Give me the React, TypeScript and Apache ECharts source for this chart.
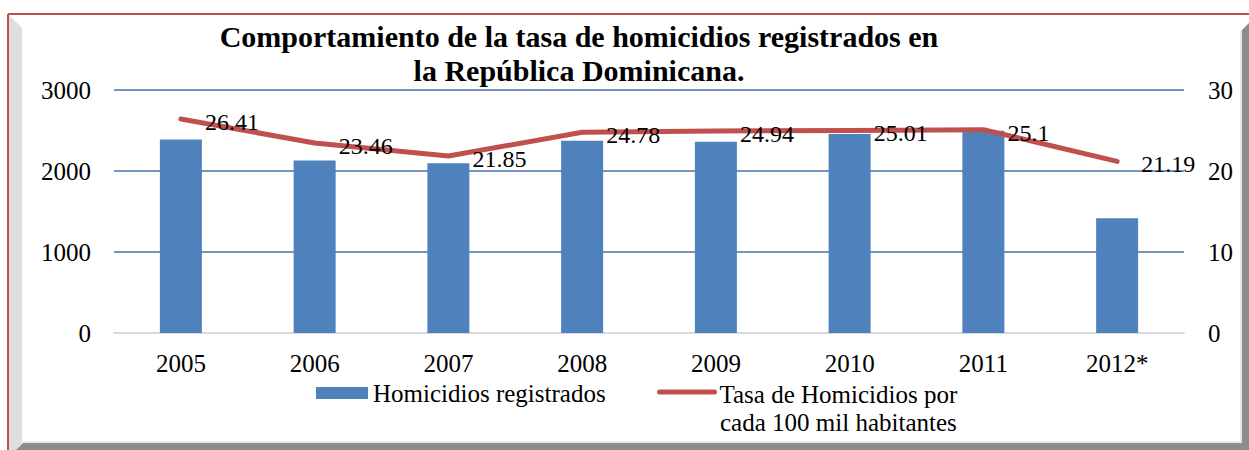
import React, { useEffect, useRef } from 'react';
import * as echarts from 'echarts';

const categories = ['2005', '2006', '2007', '2008', '2009', '2010', '2011', '2012*'];
const homicidiosRegistrados = [2390, 2130, 2095, 2375, 2362, 2456, 2497, 1418];
const tasaHomicidios = [26.41, 23.46, 21.85, 24.78, 24.94, 25.01, 25.1, 21.19];
const titleLines = ['Comportamiento de la tasa de homicidios registrados en', 'la República Dominicana.'];
const barName = 'Homicidios registrados';
const lineName = 'Tasa de Homicidios por cada 100 mil habitantes';
const lineNameLines = ['Tasa de Homicidios por', 'cada 100 mil habitantes'];

const FONT = 'Liberation Serif';
const BLUE = '#4f81bd';
const RED = '#c0504d';

export default function App() {
  const ref = useRef<HTMLDivElement>(null);
  useEffect(() => {
    if (!ref.current) return;
    const chart = echarts.init(ref.current, undefined, { renderer: 'svg' });
    const axisLabel = { color: '#000', fontSize: 25, fontFamily: FONT };
    chart.setOption({
      animation: false,
      backgroundColor: '#fff',
      textStyle: { fontFamily: FONT },
      grid: { left: 114, right: 65, top: 90, bottom: 117, containLabel: false },
      xAxis: {
        type: 'category',
        data: categories,
        axisTick: { show: false },
        axisLine: { lineStyle: { color: '#d9d9d9', width: 2 } },
        axisLabel: { ...axisLabel, margin: 18 },
        splitLine: { show: false },
      },
      yAxis: [
        {
          type: 'value', min: 0, max: 3000, interval: 1000, position: 'left',
          axisLine: { show: false }, axisTick: { show: false },
          axisLabel: { ...axisLabel, margin: 23, formatter: (v: number) => String(v) },
          splitLine: { show: true, showMinLine: false, lineStyle: { color: '#4672ab', width: 1.5 } },
        },
        {
          type: 'value', min: 0, max: 30, interval: 10, position: 'right',
          axisLine: { show: false }, axisTick: { show: false },
          axisLabel: { ...axisLabel, margin: 24, formatter: (v: number) => String(v) },
          splitLine: { show: false },
        },
      ],
      legend: [
        {
          data: [{ name: barName, icon: 'rect' }],
          left: 316, top: 379, padding: 0, itemWidth: 52, itemHeight: 12,
          selectedMode: false,
          textStyle: { color: '#000', fontSize: 25, fontFamily: FONT, lineHeight: 28 },
        },
        {
          data: [{ name: lineName }],
          left: 657, top: 348, padding: 0, itemWidth: 55, itemHeight: 12,
          selectedMode: false,
          itemStyle: { opacity: 0 },
          lineStyle: { color: RED, width: 5, cap: 'round' },
          formatter: () => `{c|${lineNameLines[0]}}\n{c|${lineNameLines[1]}}`,
          textStyle: {
            color: '#000', fontSize: 25, fontFamily: FONT, lineHeight: 28, padding: [32, 0, 0, 0],
            rich: { c: { align: 'center', color: '#000', fontSize: 25, fontFamily: FONT, lineHeight: 28 } },
          },
        },
      ],
      graphic: [
        { type: 'polygon', silent: true, shape: { points: [[9, 15], [22, 28], [22, 443], [16, 450], [9, 450]] }, style: { fill: '#dedede' } },
        { type: 'polygon', silent: true, shape: { points: [[16, 450], [23, 443], [1243, 443], [1249, 449], [1249, 450]] }, style: { fill: '#8c8c8c' } },
        { type: 'polygon', silent: true, shape: { points: [[1242, 30], [1249, 23], [1249, 450], [1242, 450]] }, style: { fill: '#8c8c8c' } },
        { type: 'line', silent: true, shape: { x1: 23, y1: 442, x2: 1242, y2: 442 }, style: { stroke: '#d4d4d4', lineWidth: 1 } },
        { type: 'line', silent: true, shape: { x1: 1241, y1: 30, x2: 1241, y2: 442 }, style: { stroke: '#d4d4d4', lineWidth: 1 } },
        { type: 'line', silent: true, shape: { x1: 8, y1: 14, x2: 1249, y2: 14 }, style: { stroke: RED, lineWidth: 2 } },
        { type: 'line', silent: true, shape: { x1: 8, y1: 14, x2: 8, y2: 450 }, style: { stroke: RED, lineWidth: 2 } },
        {
          type: 'text', silent: true, x: 579, y: 19,
          style: {
            text: titleLines.join('\n'), fontSize: 30, fontWeight: 'bold', fontFamily: FONT,
            align: 'center', verticalAlign: 'top', textAlign: 'center', textVerticalAlign: 'top',
            lineHeight: 34, fill: '#000',
          },
        },
      ],
      series: [
        {
          name: barName, type: 'bar', data: homicidiosRegistrados, yAxisIndex: 0,
          barWidth: 42, itemStyle: { color: BLUE }, z: 2,
        },
        {
          name: lineName, type: 'line', data: tasaHomicidios, yAxisIndex: 1,
          symbol: 'circle', symbolSize: 0.1,
          itemStyle: { color: RED },
          lineStyle: { color: RED, width: 5, cap: 'round', join: 'round' },
          label: { show: true, position: 'right', distance: 24, offset: [0, 3], color: '#000', fontSize: 24, fontFamily: FONT },
          z: 3,
        },
      ],
    });
    return () => chart.dispose();
  }, []);
  return <div ref={ref} style={{ position: 'absolute', left: 0, top: 0, width: 1249, height: 450 }} />;
}
